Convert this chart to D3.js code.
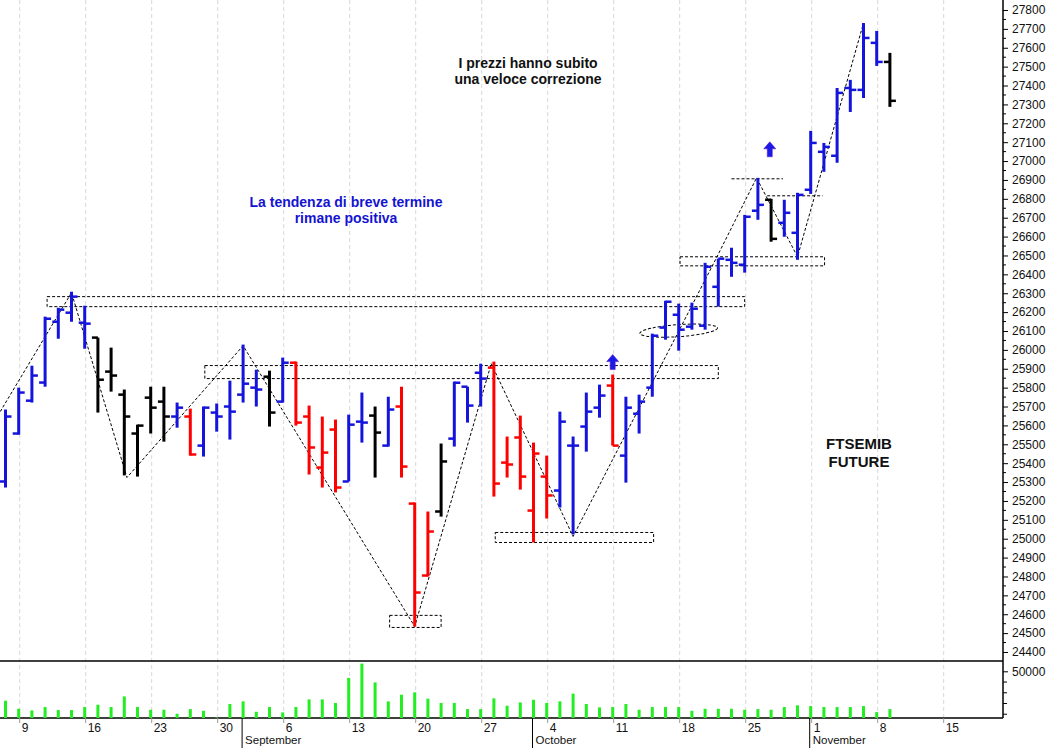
<!DOCTYPE html>
<html><head><meta charset="utf-8">
<script src="https://cdn.jsdelivr.net/npm/d3@7"></script>
<style>body{margin:0;background:#fff}svg{display:block}</style>
</head><body>
<svg id="c" width="1052" height="748"></svg>
<script>
// ---- data ----
const opens  = [25303,25557,25731,25827,26149,26197,26144,26065,25885,25763,25557,25747,25726,25647,25647,25493,25668,25700,25763,25800,25858,25726,25932,25647,25377,25578,25303,25620,25652,25493,25700,25186,24805,25144,25530,25805,25879,25906,25403,25536,25149,25329,25255,25493,25594,25694,25811,25440,25662,25800,26118,26186,26123,26128,26334,26477,26451,26737,26795,26673,26620,26848,27049,27028,27387,27377,27626,27525];
const highs  = [25684,25800,25916,26176,26223,26308,26234,26065,26012,25790,25604,25805,25805,25721,25689,25700,25716,25837,26028,25895,25890,25959,25938,25705,25647,25631,25657,25774,25700,25752,25805,25192,25144,25504,25832,25805,25927,25938,25541,25652,25509,25440,25673,25541,25774,25816,25869,25752,25763,26086,26260,26245,26250,26461,26483,26541,26715,26911,26800,26795,26832,27160,27096,27387,27430,27731,27689,27573];
const lows   = [25271,25551,25721,25805,26059,26149,26006,25668,25779,25335,25329,25557,25514,25588,25440,25435,25567,25525,25721,25700,25594,25721,25599,25340,25271,25245,25303,25509,25324,25488,25324,24535,24800,25117,25488,25615,25700,25223,25324,25260,24980,25107,25165,25022,25461,25641,25493,25297,25557,25752,26054,25996,26107,26107,26229,26387,26409,26689,26573,26599,26477,26826,26943,26991,27260,27334,27504,27287];
const closes = [25647,25774,25864,26165,26213,26282,26139,25842,25864,25647,25599,25694,25647,25694,25446,25694,25647,25673,25821,25790,25668,25932,25615,25483,25456,25271,25604,25615,25562,25684,25382,24715,25038,25409,25826,25705,25848,25292,25393,25329,25451,25229,25620,25493,25673,25758,25493,25694,25726,26075,26255,26107,26218,26440,26483,26461,26705,26768,26588,26726,26821,27096,27075,27361,27377,27652,27525,27319];
const signals = "bbbbbbbkkkkkkbrbbbbbkbrrrrbbkbrrrkbbbrrrrrbbbbrbbbbbbbbbbbkbbbbbbbbk".split("");
const volumes = [22600,15100,13600,16700,13900,13900,16700,18900,16700,26600,16700,14200,14200,10500,14800,13200,7000,19500,22000,12300,16700,11700,16700,23800,23800,20500,43800,57200,39700,22000,28200,30400,24500,20500,20500,14800,14800,24800,17900,21000,23500,20500,22000,29200,19500,16400,16700,19500,14200,16700,16700,16700,13200,15100,15100,15100,14200,14800,14200,16700,18300,17600,16700,16700,16700,17600,12000,14800];
const weekLabels = ["9","16","23","30","6","13","20","27","4","11","18","25","1","8","15"];
const weekIdx    = [1,6,11,16,21,26,31,36,41,46,51,56,61,66,71];
const monthLabels = ["September","October","November"];
const monthIdx    = [18,40,61];
const priceTicks = d3.range(24400, 27801, 100);
// annotations in (bar index, price)
const zigzag = [[-0.4,25673],[5,26303],[9.2,25324],[18,26022],[31,24535],[36.8,25927],[43,25012],[53.9,26493],[56.9,26911],[60,26493],[65,27731]];
const boxes = [[3.15,56,26282,26229],[15.1,54,25917,25848],[29.1,33,24594,24530],[37.1,49.1,25033,24980],[51.1,62.05,26493,26445]];
const hlines = [[55,58.9,26906],[57.7,61.9,26816]];
const arrows = [[46,25975],[57.9,27102]];

// ---- drawing ----
const svg = d3.select("#c");
const right = 1003;
const x = d3.scaleLinear().domain([0,67]).range([5.5, 5.5+13.2*67]);
const y = d3.scaleLinear().domain([24400,27800]).range([652,10]);
const yv = d3.scaleLinear().domain([6500,59600]).range([718,661]);
const colors = {b:"#1414dc", r:"#ff0000", k:"#000000"};

svg.append("g").selectAll("line").data(weekIdx).join("line")
  .attr("x1",d=>x(d)+1).attr("x2",d=>x(d)+1).attr("y1",0).attr("y2",718)
  .attr("stroke","#d8d8d8").attr("stroke-dasharray","4,3");

svg.append("line").attr("x1",0).attr("x2",right).attr("y1",661).attr("y2",661).attr("stroke","#000").attr("stroke-width",1.5);
svg.append("line").attr("x1",0).attr("x2",right).attr("y1",718).attr("y2",718).attr("stroke","#000").attr("stroke-width",1.5);
svg.append("line").attr("x1",right).attr("x2",right).attr("y1",0).attr("y2",718).attr("stroke","#000").attr("stroke-width",1.5);

const ya = d3.axisRight(y).tickValues(priceTicks).tickSize(5).tickFormat(d3.format("d"));
const gy = svg.append("g").attr("transform",`translate(${right},0)`).call(ya);
gy.select(".domain").remove();
gy.selectAll("text").attr("font-family","Liberation Sans, Arial").attr("font-size",12).attr("fill","#111").attr("x",9);
svg.append("g").selectAll("line").data(d3.range(24450,27800,100)).join("line")
  .attr("x1",right).attr("x2",right+3).attr("y1",d=>y(d)).attr("y2",d=>y(d)).attr("stroke","#000");
const va = d3.axisRight(yv).tickValues([50000]).tickSize(5).tickFormat(d3.format("d"));
const gv = svg.append("g").attr("transform",`translate(${right},0)`).call(va);
gv.select(".domain").remove();
gv.selectAll("text").attr("font-family","Liberation Sans, Arial").attr("font-size",12).attr("fill","#111").attr("x",9);
svg.append("g").selectAll("line").data([40000,30000,20000,10000]).join("line")
  .attr("x1",right).attr("x2",right+4).attr("y1",d=>yv(d)).attr("y2",d=>yv(d)).attr("stroke","#000");

svg.append("g").selectAll("text").data(weekIdx).join("text")
  .attr("x",d=>x(d)+3).attr("y",732).text((d,i)=>weekLabels[i])
  .attr("font-family","Liberation Sans Narrow, Liberation Sans, Arial").attr("font-size",12).attr("fill","#111");
svg.append("g").selectAll("line").data(weekIdx).join("line")
  .attr("x1",d=>x(d)+1).attr("x2",d=>x(d)+1).attr("y1",718).attr("y2",723).attr("stroke","#999");
svg.append("g").selectAll("line").data(monthIdx).join("line")
  .attr("x1",d=>x(d)-1).attr("x2",d=>x(d)-1).attr("y1",718).attr("y2",748).attr("stroke","#000");
svg.append("g").selectAll("text").data(monthIdx).join("text")
  .attr("x",d=>x(d)+2).attr("y",744).text((d,i)=>monthLabels[i])
  .attr("font-family","Liberation Sans Narrow, Liberation Sans, Arial").attr("font-size",11.5).attr("fill","#111");

svg.append("g").selectAll("rect").data(volumes).join("rect")
  .attr("x",(d,i)=>x(i)-1.5).attr("width",3).attr("y",d=>yv(d)).attr("height",d=>718-yv(d)).attr("fill","#22ee22");

const dash = {stroke:"#000","stroke-width":1,"stroke-dasharray":"3,2",fill:"none"};
function st(s){for(const k in dash) s.attr(k,dash[k]); return s;}
st(svg.append("path").attr("d",d3.line().x(d=>x(d[0])).y(d=>y(d[1]))(zigzag)));
st(svg.append("g").selectAll("rect").data(boxes).join("rect")
  .attr("x",d=>x(d[0])).attr("width",d=>x(d[1])-x(d[0])).attr("y",d=>y(d[2])).attr("height",d=>y(d[3])-y(d[2])));
st(svg.append("g").selectAll("line").data(hlines).join("line")
  .attr("x1",d=>x(d[0])).attr("x2",d=>x(d[1])).attr("y1",d=>y(d[2])).attr("y2",d=>y(d[2])));
st(svg.append("ellipse").attr("cx",x(51)).attr("cy",y(26102)).attr("rx",x(53.95)-x(51)).attr("ry",6)
  .attr("transform",`rotate(-4 ${x(51)} ${y(26102)})`));

const gb = svg.append("g");
opens.forEach((o,i)=>{
  const c = colors[signals[i]], cx = x(i);
  gb.append("line").attr("x1",cx).attr("x2",cx).attr("y1",y(highs[i])).attr("y2",y(lows[i])).attr("stroke",c).attr("stroke-width",3);
  gb.append("line").attr("x1",cx-6).attr("x2",cx).attr("y1",y(o)).attr("y2",y(o)).attr("stroke",c).attr("stroke-width",2.5);
  gb.append("line").attr("x1",cx).attr("x2",cx+6).attr("y1",y(closes[i])).attr("y2",y(closes[i])).attr("stroke",c).attr("stroke-width",2.5);
});

arrows.forEach(a=>{
  const ax=x(a[0]), ay=y(a[1]);
  svg.append("path").attr("d",`M${ax},${ay} L${ax+6},${ay+7} L${ax+2.5},${ay+7} L${ax+2.5},${ay+15} L${ax-2.5},${ay+15} L${ax-2.5},${ay+7} L${ax-6},${ay+7}Z`)
    .attr("fill","#1a1ae6").attr("stroke","#5a1ad0").attr("stroke-width",0.6);
});

function txt(lines, cx, y0, size, color, lh){
  const t = svg.append("text").attr("font-family","Liberation Sans, Arial").attr("font-weight","bold")
    .attr("font-size",size).attr("fill",color).attr("text-anchor","middle");
  lines.forEach((l,k)=>t.append("tspan").attr("x",cx).attr("y",y0+k*lh).text(l));
}
txt(["I prezzi hanno subito","una veloce correzione"],528,68,14,"#111",16);
txt(["La tendenza di breve termine","rimane positiva"],346,207,14,"#1414d0",16);
txt(["FTSEMIB","FUTURE"],859,449,15,"#111",18);
</script>
</body></html>
